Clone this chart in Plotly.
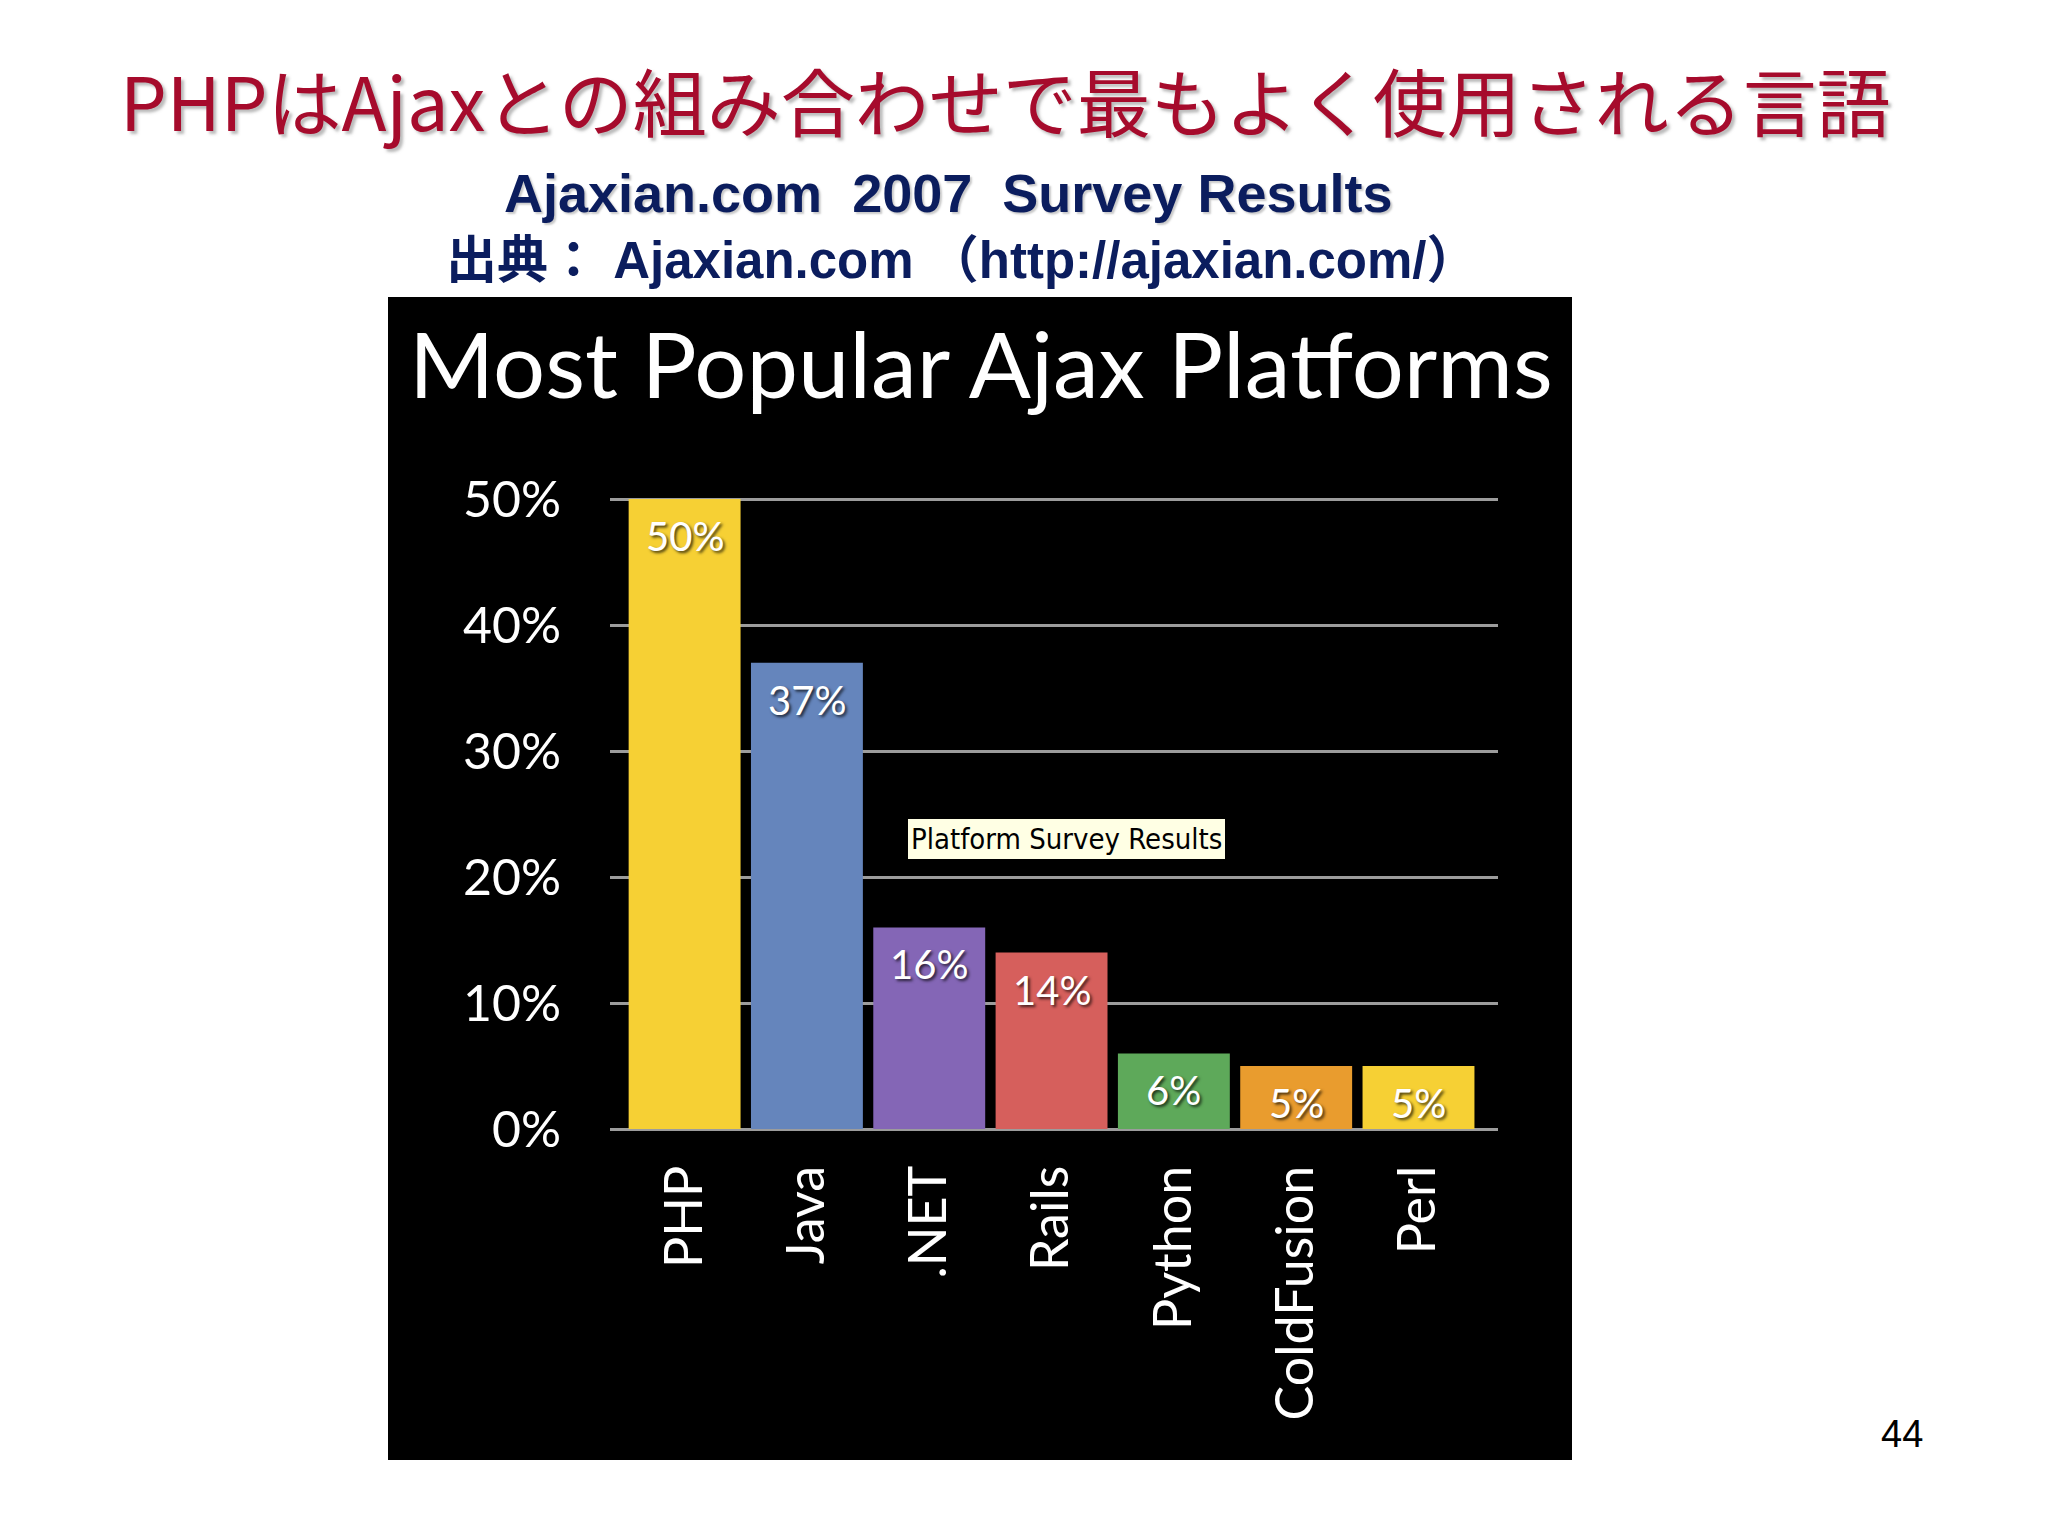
import plotly.graph_objects as go

# ---- data ----
platforms = ["PHP", "Java", ".NET", "Rails", "Python", "ColdFusion", "Perl"]
shares = [50, 37, 16, 14, 6, 5, 5]
bar_colors = ["#F6D034", "#6585BC", "#8466B6", "#D65F5C", "#5EA95A", "#E99C2E", "#F6D034"]
y_ticks = [0, 10, 20, 30, 40, 50]
y_tick_labels = ["0%", "10%", "20%", "30%", "40%", "50%"]

page_title = "PHPはAjaxとの組み合わせで最もよく使用される言語"
sub1 = "Ajaxian.com&nbsp;&nbsp;2007&nbsp;&nbsp;Survey Results"
sub2 = "出典：&nbsp;Ajaxian.com&nbsp;（http://ajaxian.com/）"
chart_title = "Most Popular Ajax Platforms"
tooltip_text = "Platform Survey Results"
page_no = "44"

W, H = 2048, 1536
OFF = 8  # page body margin

def px(x):
    return (x - OFF) / W

def py(y):
    return 1 - (y - OFF) / H

# plot area pixel geometry (target positions on screen)
x_left, x_right = 610, 1498
y_zero, y_fifty = 1129, 499
per = (y_zero - y_fifty) / 50.0
y_top = y_fifty - 1.0 * per

fig = go.Figure()
fig.add_trace(go.Bar(
    x=platforms, y=shares,
    marker=dict(color=bar_colors, line=dict(width=0)),
    width=0.915,
    hoverinfo="skip",
))

label_font = "Lato, 'Open Sans', sans-serif"

# value labels inside top of bars
for p, v in zip(platforms, shares):
    fig.add_annotation(
        x=p, y=v, xref="x", yref="y", text=f"{v}%", showarrow=False,
        yanchor="middle", yshift=-37,
        font=dict(family=label_font, size=40, color="#ffffff",
                  shadow="2px 2px 3px rgba(0,0,0,0.7)"),
    )

# background black panel
fig.add_shape(type="rect", xref="paper", yref="paper",
              x0=px(388), x1=px(1572), y0=py(1460), y1=py(297),
              fillcolor="#000000", line=dict(width=0), layer="below")

# texts
fig.add_annotation(x=px(1005), y=py(98), xref="paper", yref="paper",
                   text=page_title, showarrow=False, xanchor="center", yanchor="middle",
                   font=dict(family="'Noto Sans CJK JP', sans-serif", size=74, color="#A60B2C",
                             shadow="3px 3px 3px rgba(120,120,120,0.5)"))
fig.add_annotation(x=px(948), y=py(193), xref="paper", yref="paper",
                   text=sub1, showarrow=False, xanchor="center", yanchor="middle",
                   font=dict(family="'Liberation Sans Narrow', 'Liberation Sans', sans-serif",
                             size=54, color="#0B1D5E", weight="bold",
                             shadow="2px 2px 2px rgba(120,120,120,0.4)"))
fig.add_annotation(x=px(962), y=py(261), xref="paper", yref="paper",
                   text=sub2, showarrow=False, xanchor="center", yanchor="middle",
                   font=dict(family="'Liberation Sans', 'Noto Sans CJK JP', sans-serif",
                             size=51, color="#0B1D5E", weight="bold"))
fig.add_annotation(x=px(981), y=py(362), xref="paper", yref="paper",
                   text=chart_title, showarrow=False, xanchor="center", yanchor="middle",
                   font=dict(family=label_font, size=92, color="#ffffff"))
fig.add_annotation(x=3.12, y=23.0, xref="x", yref="y",
                   text=tooltip_text, showarrow=False, xanchor="center", yanchor="middle",
                   bgcolor="#FFFFE4", borderpad=3, borderwidth=0,
                   font=dict(family="'DejaVu Sans Condensed', 'DejaVu Sans', sans-serif", size=29, color="#000000"))
fig.add_annotation(x=px(1902), y=py(1434), xref="paper", yref="paper",
                   text=page_no, showarrow=False, xanchor="center", yanchor="middle",
                   font=dict(family="'Liberation Sans', Arial, sans-serif", size=38, color="#000000"))

fig.update_layout(
    width=W, height=H,
    margin=dict(l=0, r=0, t=0, b=0, pad=0, autoexpand=False),
    paper_bgcolor="#ffffff",
    plot_bgcolor="rgba(0,0,0,0)",
    showlegend=False,
    bargap=0.085,
    xaxis=dict(
        domain=[px(x_left), px(x_right)],
        range=[-0.61, 6.65],
        showgrid=False, zeroline=False, showline=False,
        tickangle=-90, automargin=False,
        ticks="outside", ticklen=15, tickcolor="rgba(0,0,0,0)",
        tickfont=dict(family=label_font, size=52, color="#ffffff"),
        fixedrange=True,
    ),
    yaxis=dict(
        domain=[py(y_zero), py(y_top)],
        range=[0, 51], automargin=False,
        tickvals=y_ticks, ticktext=y_tick_labels,
        showgrid=True, gridcolor="#9C9C9C", gridwidth=3,
        zeroline=True, zerolinecolor="#9C9C9C", zerolinewidth=3,
        showline=False,
        ticks="outside", ticklen=38, tickcolor="rgba(0,0,0,0)",
        tickfont=dict(family=label_font, size=50, color="#ffffff"),
        fixedrange=True,
    ),
)

fig.write_html("out.html")
